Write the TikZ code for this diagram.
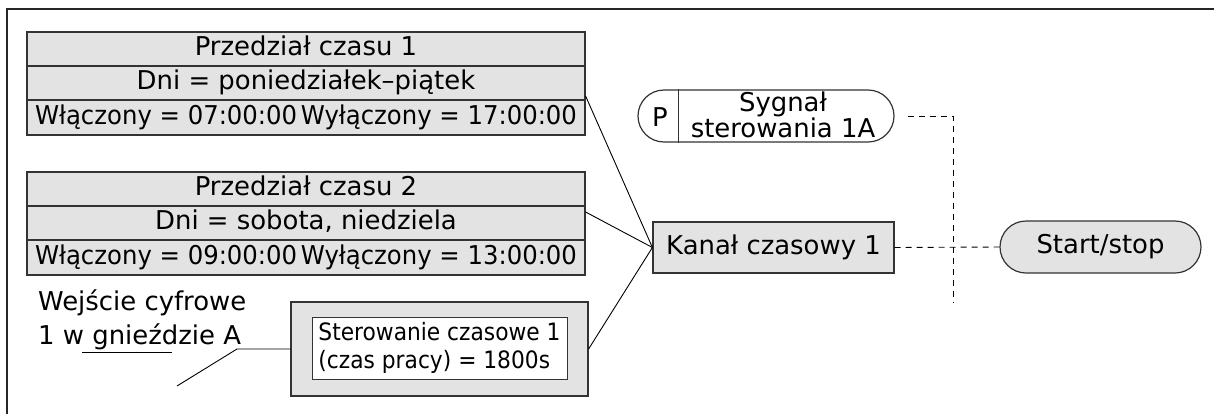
\documentclass[tikz,border=0pt]{standalone}
\usepackage{fontspec}
\setmainfont{DejaVu Sans}
\begin{document}
\begin{tikzpicture}[x=1bp,y=-1bp,
  big/.style={font=\fontsize{26}{30}\selectfont},
  row/.style={draw=black!80, line width=1.2bp, fill=gray!22, inner sep=0pt,
    minimum width=558bp, minimum height=34bp, text height=18bp, text depth=5bp, big},
  chan/.style={draw=black!80, line width=1.2bp, fill=gray!22, inner sep=0pt, big,
    text height=18bp, text depth=5bp},
  pill/.style={draw=black!80, line width=1.2bp, rounded corners=26bp, inner sep=0pt,
    minimum height=52bp},
  conn/.style={draw=black, line width=0.9bp},
  dashconn/.style={draw=black, line width=0.9bp, dash pattern=on 6bp off 5bp},
]
\useasboundingbox (0,0) rectangle (1214,414);

% frame (top and left edges)
\coordinate (fbl) at (7,414);
\coordinate (ftl) at (7,9);
\coordinate (ftr) at (1214,9);
\draw[black!85, line width=1.5bp] (fbl) -- (ftl) -- (ftr);

% Przedzial czasu 1
\node[row] (p1a) at (306,49) {Przedział czasu 1};
\node[row] (p1b) at (306,83) {Dni = poniedziałek–piątek};
\node[row, minimum height=35bp] (p1c) at (306,117.5)
  {\scalebox{0.94}[1]{Włączony = 07:00:00\hspace{4bp}Wyłączony = 17:00:00}};

% Przedzial czasu 2
\node[row] (p2a) at (306,189) {Przedział czasu 2};
\node[row] (p2b) at (306,223) {Dni = sobota, niedziela};
\node[row, minimum height=35bp] (p2c) at (306,257.5)
  {\scalebox{0.94}[1]{Włączony = 09:00:00\hspace{4bp}Wyłączony = 13:00:00}};

% Wejscie cyfrowe
\node[anchor=west, align=left, font=\fontsize{26}{34}\selectfont, inner sep=0pt] (we) at (38,320)
  {Wejście cyfrowe\\1 w gnieździe A};
\coordinate (u1) at (82,352);
\coordinate (u2) at (172,352);
\draw[conn] (u1) -- (u2);

% Sterowanie czasowe
\node[draw=black!80, line width=1.2bp, fill=gray!22, minimum width=297bp, minimum height=94bp,
  inner sep=0pt] (st) at (439.5,349) {};
\node[draw=black!80, line width=1bp, fill=white, minimum width=255bp, minimum height=62bp,
  inner sep=0pt, align=left, font=\fontsize{24}{28}\selectfont] (sti) at (439.5,348)
  {\scalebox{0.91}[1]{Sterowanie czasowe 1}\\\scalebox{0.91}[1]{(czas pracy) = 1800s}};
\coordinate (w1) at (237,349);
\coordinate (w2) at (177,386);
\draw[conn] (st.west) -- (w1) -- (w2);

% Kanal czasowy
\node[chan, minimum width=241bp, minimum height=51bp] (kan) at (773.5,247.5) {Kanał czasowy 1};

% Sygnal sterowania
\node[pill, fill=white, minimum width=256bp] (sig) at (766,116) {};
\draw[black!80, line width=1bp] ([xshift=41bp]sig.north west) -- ([xshift=41bp]sig.south west);
\node[big, inner sep=0pt] (sigp) at (660,117) {P};
\node[align=center, font=\fontsize{26}{24}\selectfont, inner sep=0pt] (sigt) at (783,115)
  {Sygnał\\sterowania 1A};

% Start/stop
\node[pill, fill=gray!22, minimum width=201bp, big] (ss) at (1100.5,247) {Start/stop};

% connectors
\draw[conn] ([yshift=-13bp]p1b.east) -- (kan.west);
\draw[conn] ([yshift=11bp]p2b.east) -- (kan.west);
\draw[conn] (st.east) -- (kan.west);

\coordinate (d1) at (953,116);
\coordinate (d2) at (953,303);
\draw[dashconn] ([xshift=13bp]sig.east) -- (d1) -- (d2);
\draw[dashconn] (kan.east) -- (ss.west);
\end{tikzpicture}
\end{document}
